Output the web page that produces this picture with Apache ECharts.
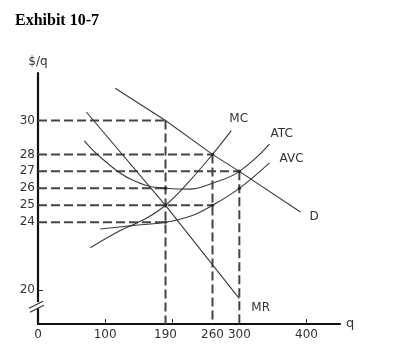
<!DOCTYPE html>
<html>
<head>
<meta charset="utf-8">
<script src="https://cdn.jsdelivr.net/npm/echarts@6/dist/echarts.min.js"></script>
<style>
html,body{margin:0;padding:0;background:#fff;}
#chart{width:410px;height:364px;}
</style>
</head>
<body>
<div id="chart"></div>
<script>
// ---- data ----
const titleText = 'Exhibit 10-7';
const xTickLabels = [0, 100, 190, 260, 300, 400];
const xTickMarks = [100, 200, 300, 400];
const yTickLabels = [20, 24, 25, 26, 27, 28, 30];

const demandD = [[115, 31.9], [190, 30], [260, 28], [300, 27], [391, 24.6]];
const marginalRevenueMR = [[72, 30.5], [190, 25], [300, 19.5]];
const marginalCostMC = [[78, 22.5], [122, 23.5], [160, 24.2], [190, 25], [225, 26.4], [260, 28], [288, 29.4]];
const averageTotalCostATC = [[69, 28.8], [97, 27.7], [140, 26.5], [190, 26.0], [225, 25.95], [260, 26.3], [300, 27.0], [345, 28.6]];
const averageVariableCostAVC = [[93, 23.6], [140, 23.8], [190, 24.0], [230, 24.4], [260, 25.0], [300, 26.0], [345, 27.5]];

// horizontal dashed guides: [price, q where it stops]
const hGuides = [[30, 190], [28, 260], [27, 300], [26, 190], [25, 260], [24, 190]];
// vertical dashed guides: [q, price where it starts]
const vGuides = [[190, 30], [260, 28], [300, 27]];
// emphasised intersection dots
const dots = [[190, 26], [190, 25], [190, 24], [260, 28], [260, 25], [300, 27], [300, 26]];

const yMin = 18, yMax = 32.8, xMin = 0, xMax = 450;
const breakValue = 19.05;

// ---- build ----
const chart = echarts.init(document.getElementById('chart'));
const curveColor = '#3a3a3a';
const dashColor = '#444';
const labelStyle = {color: '#333', fontFamily: 'DejaVu Sans', fontSize: 12};

const guideData = [];
hGuides.forEach(g => { guideData.push([xMin, g[0]], [g[1], g[0]], '-'); });
vGuides.forEach(g => { guideData.push([g[0], g[1]], [g[0], yMin], '-'); });

function curve(name, data, smooth, off) {
  return {
    type: 'line', name: name, data: data, smooth: smooth, showSymbol: false, silent: true,
    lineStyle: {color: curveColor, width: 1.1},
    endLabel: Object.assign({show: true, formatter: name, offset: off}, labelStyle),
    z: 3
  };
}

chart.setOption({
  animation: false,
  title: {
    text: titleText, left: 10, top: 8,
    textStyle: {fontFamily: 'Liberation Serif', fontWeight: 'bold', fontSize: 16, color: '#000'}
  },
  grid: {left: 38, right: 70, top: 73, bottom: 40},
  xAxis: {
    type: 'value', min: xMin, max: xMax,
    name: 'q', nameLocation: 'end', nameGap: 6,
    nameTextStyle: Object.assign({}, labelStyle, {fontSize: 13, padding: [0, 0, 4, 0]}),
    axisLine: {lineStyle: {color: '#111', width: 2.2}},
    axisTick: {inside: true, length: 5, customValues: xTickMarks, lineStyle: {color: '#333', width: 1}},
    axisLabel: Object.assign({customValues: xTickLabels, margin: 5}, labelStyle),
    splitLine: {show: false}
  },
  yAxis: {
    type: 'value', min: yMin, max: yMax,
    name: '$/q', nameLocation: 'end', nameGap: 5,
    nameTextStyle: Object.assign({}, labelStyle, {align: 'center'}),
    axisLine: {lineStyle: {color: '#111', width: 2.2}},
    axisTick: {inside: true, length: 5, customValues: yTickLabels, lineStyle: {color: '#333', width: 1}},
    axisLabel: Object.assign({customValues: yTickLabels, margin: 3}, labelStyle),
    splitLine: {show: false}
  },
  series: [
    {
      type: 'line', name: 'guides', data: guideData, showSymbol: false, silent: true,
      connectNulls: false,
      lineStyle: {color: dashColor, width: 2, type: [9, 4]}, z: 2
    },
    curve('D', demandD, false, [1, 5]),
    curve('MR', marginalRevenueMR, false, [4, 9]),
    curve('MC', marginalCostMC, 0.4, [-10, -12]),
    curve('ATC', averageTotalCostATC, 0.45, [-7, -10]),
    curve('AVC', averageVariableCostAVC, 0.4, [2, -4]),
    {
      type: 'scatter', data: dots, symbolSize: 3.5, silent: true,
      itemStyle: {color: '#222'}, z: 4
    }
  ]
});

// axis break mark on the price axis
const bp = chart.convertToPixel({xAxisIndex: 0, yAxisIndex: 0}, [xMin, breakValue]);
const bx = bp[0], by = bp[1];
chart.setOption({
  graphic: [
    {type: 'rect', shape: {x: bx - 3, y: by - 4, width: 6, height: 6}, style: {fill: '#fff'}, z: 100},
    {type: 'line', shape: {x1: bx - 9, y1: by + 2, x2: bx + 5, y2: by - 5}, style: {stroke: '#333', lineWidth: 1.2}, z: 101},
    {type: 'line', shape: {x1: bx - 8, y1: by + 6, x2: bx + 6, y2: by - 1}, style: {stroke: '#333', lineWidth: 1.2}, z: 101}
  ]
});
</script>
</body>
</html>
